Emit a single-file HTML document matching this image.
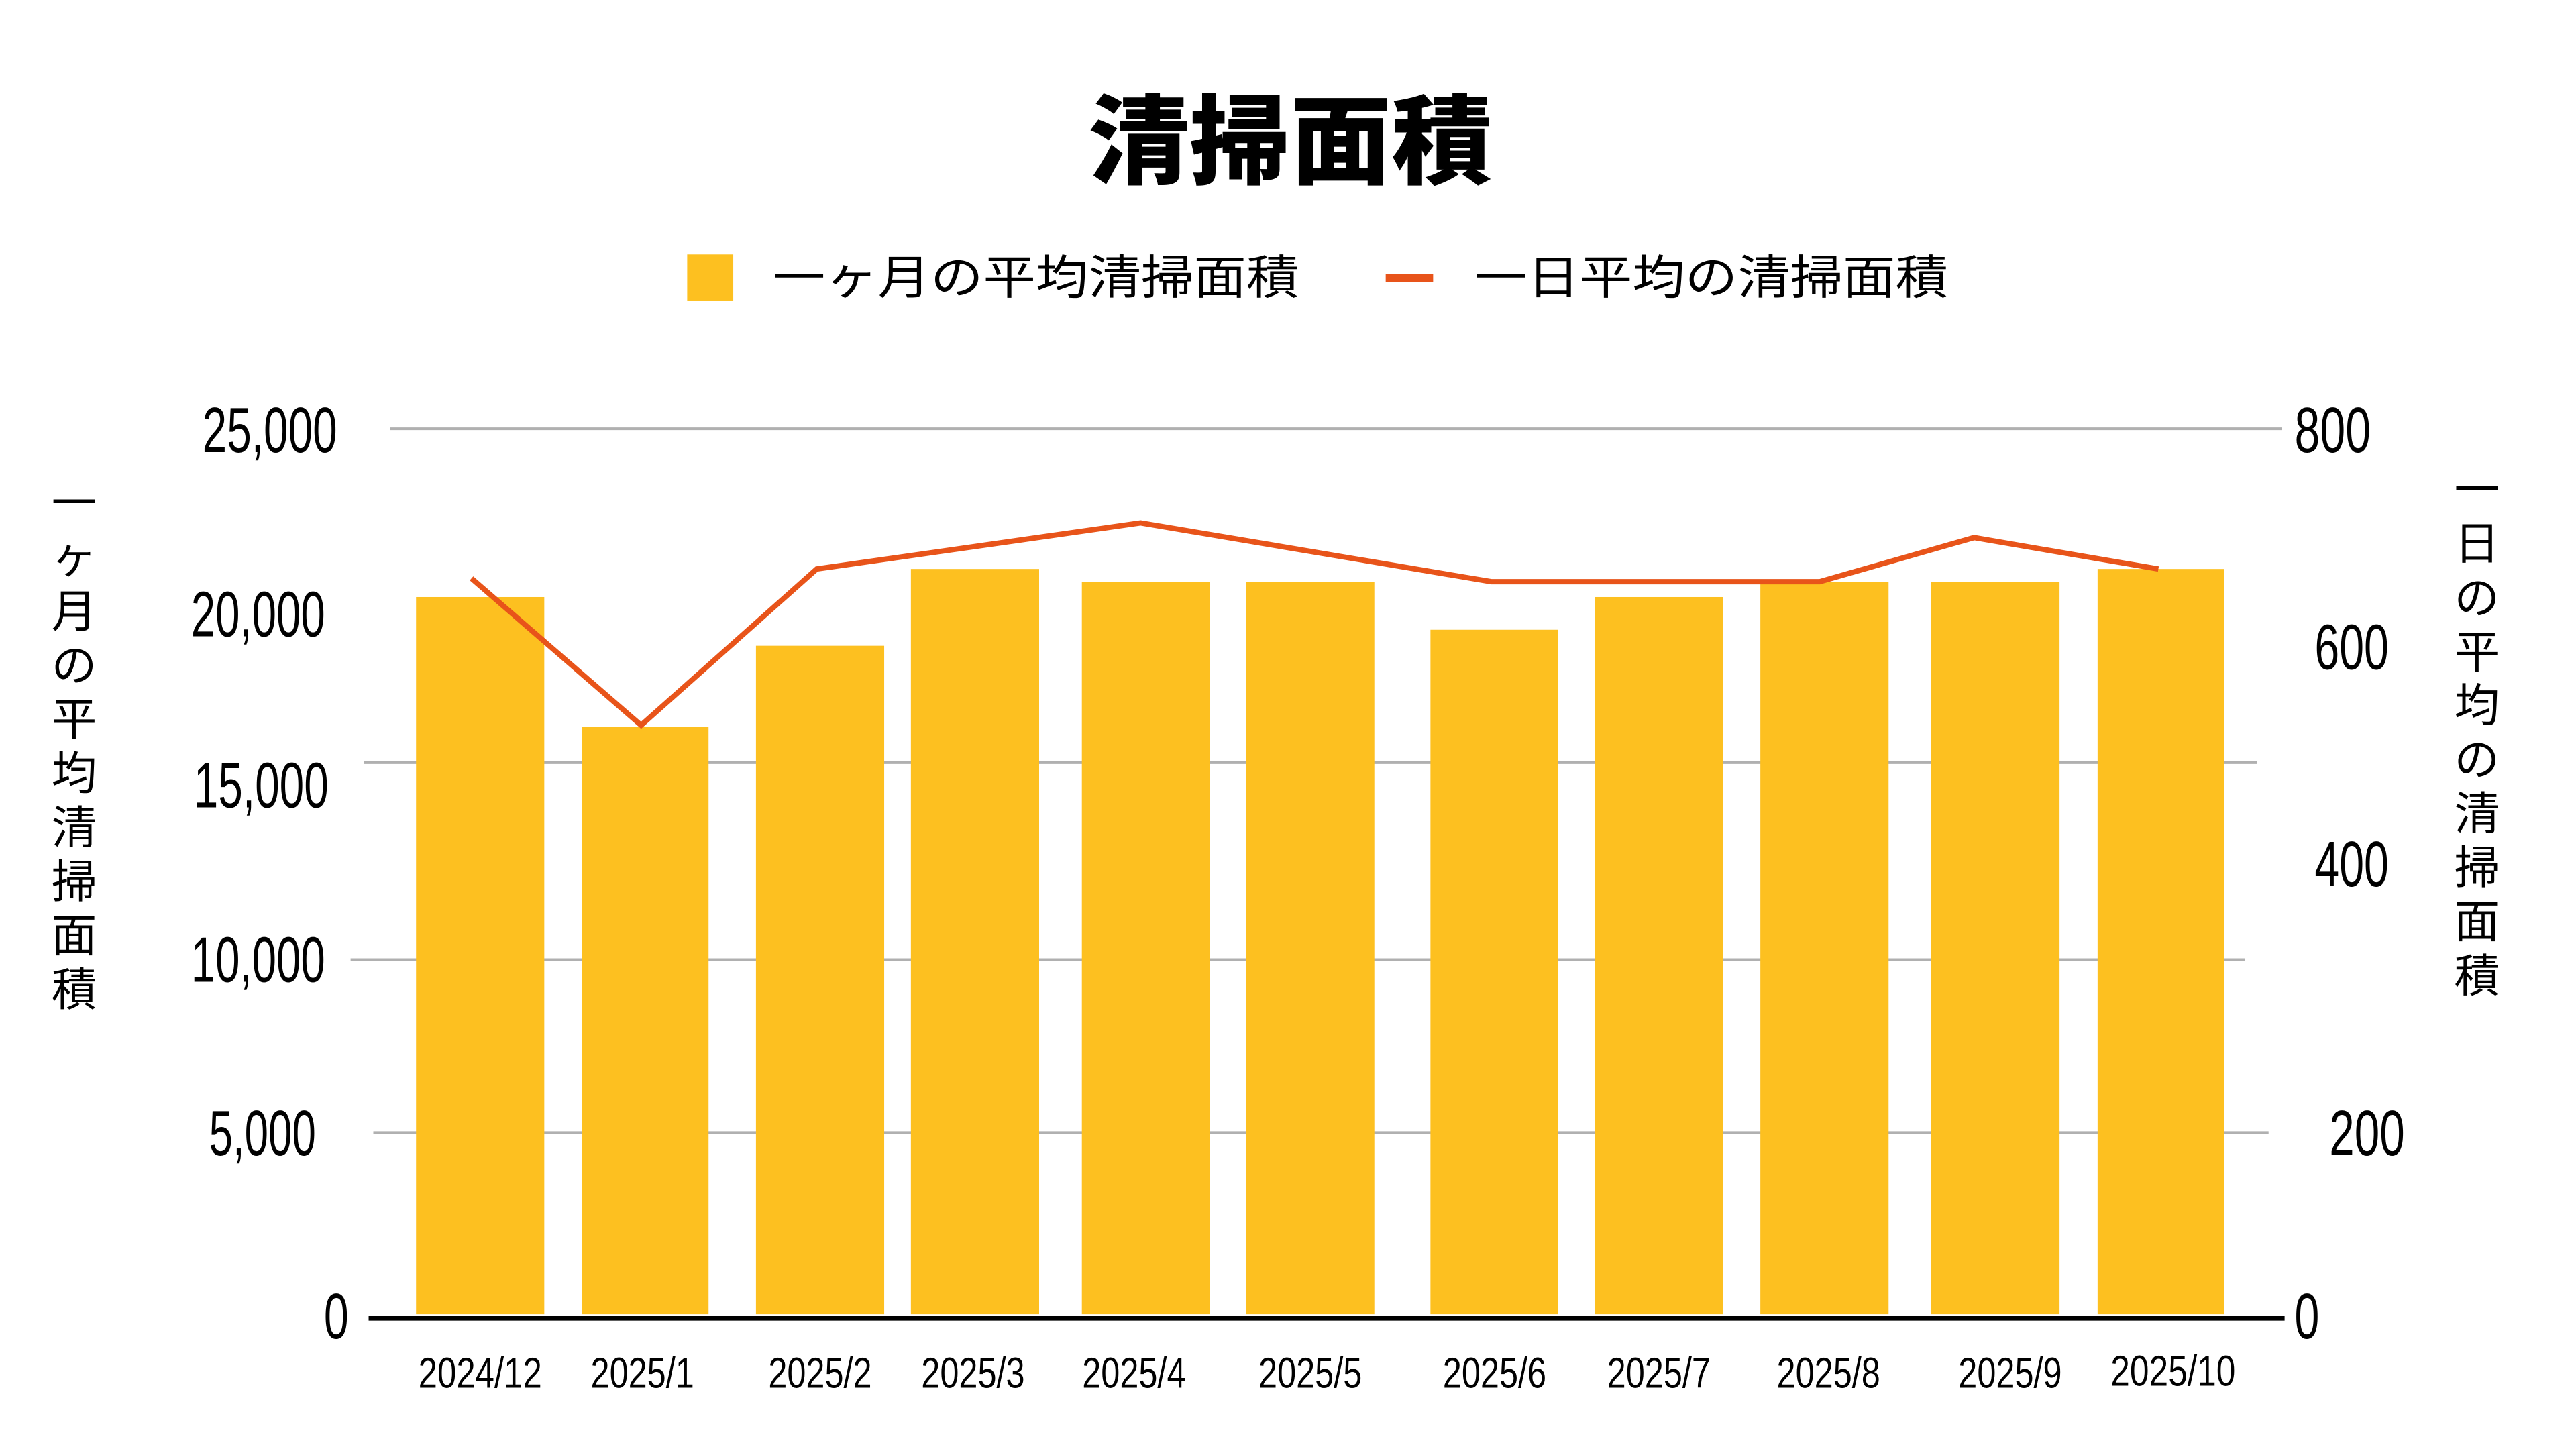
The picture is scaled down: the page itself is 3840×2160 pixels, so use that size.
<!DOCTYPE html>
<html><head><meta charset="utf-8"><style>html,body{margin:0;padding:0;background:#fff}svg{display:block}text{font-family:"Liberation Sans","Noto Sans CJK JP",sans-serif;fill:#000}</style></head><body>
<svg width="3840" height="2160" viewBox="0 0 3840 2160" xmlns="http://www.w3.org/2000/svg">
<rect width="3840" height="2160" fill="#fff"/>
<g transform="scale(0.9955)">
<text x="1932" y="264" text-anchor="middle" font-size="146" font-weight="900" textLength="605" lengthAdjust="spacingAndGlyphs" style="font-family:'Noto Sans CJK JP',sans-serif">清掃面積</text>
<rect x="1029" y="381" width="69" height="69" fill="#fdc020"/>
<text x="1157" y="440" font-size="70" textLength="788" lengthAdjust="spacingAndGlyphs" style="font-family:'Noto Sans CJK JP',sans-serif">一ヶ月の平均清掃面積</text>
<rect x="2075" y="410" width="71" height="12" fill="#e8541a"/>
<text x="2208" y="440" font-size="70" textLength="709" lengthAdjust="spacingAndGlyphs" style="font-family:'Noto Sans CJK JP',sans-serif">一日平均の清掃面積</text>
<g stroke="#b0b0b0" stroke-width="4">
<line x1="584" y1="642" x2="3417" y2="642"/>
<line x1="545" y1="1142" x2="3380" y2="1142"/>
<line x1="525" y1="1437" x2="3362" y2="1437"/>
<line x1="559" y1="1696" x2="3397" y2="1696"/>
</g>
<g fill="#fdc020">
<rect x="623" y="894" width="192" height="1074"/>
<rect x="871" y="1088" width="190" height="880"/>
<rect x="1132" y="967" width="192" height="1001"/>
<rect x="1364" y="852" width="192" height="1116"/>
<rect x="1620" y="871" width="192" height="1097"/>
<rect x="1866" y="871" width="192" height="1097"/>
<rect x="2142" y="943" width="191" height="1025"/>
<rect x="2388" y="894" width="192" height="1074"/>
<rect x="2636" y="871" width="192" height="1097"/>
<rect x="2892" y="871" width="192" height="1097"/>
<rect x="3141" y="852" width="189" height="1116"/>
</g>
<line x1="552" y1="1974" x2="3421" y2="1974" stroke="#000" stroke-width="7"/>
<polyline fill="none" stroke="#e8541a" stroke-width="8" points="706,866 960,1086 1223,852 1708,783 2233,871 2725,871 2956,805 3232,852"/>
<g font-size="96">
<text x="303" y="677" textLength="202" lengthAdjust="spacingAndGlyphs">25,000</text>
<text x="286" y="953" textLength="201" lengthAdjust="spacingAndGlyphs">20,000</text>
<text x="290" y="1209" textLength="202" lengthAdjust="spacingAndGlyphs">15,000</text>
<text x="286" y="1470" textLength="201" lengthAdjust="spacingAndGlyphs">10,000</text>
<text x="313" y="1730" textLength="160" lengthAdjust="spacingAndGlyphs">5,000</text>
<text x="485" y="2004" textLength="37" lengthAdjust="spacingAndGlyphs">0</text>
<text x="3436" y="677" textLength="114" lengthAdjust="spacingAndGlyphs">800</text>
<text x="3466" y="1002" textLength="111" lengthAdjust="spacingAndGlyphs">600</text>
<text x="3466" y="1327" textLength="111" lengthAdjust="spacingAndGlyphs">400</text>
<text x="3488" y="1730" textLength="113" lengthAdjust="spacingAndGlyphs">200</text>
<text x="3436" y="2004" textLength="37" lengthAdjust="spacingAndGlyphs">0</text>
</g>
<g font-size="64" text-anchor="middle">
<text x="719" y="2078" textLength="185" lengthAdjust="spacingAndGlyphs">2024/12</text>
<text x="962" y="2078" textLength="155" lengthAdjust="spacingAndGlyphs">2025/1</text>
<text x="1228" y="2078" textLength="155" lengthAdjust="spacingAndGlyphs">2025/2</text>
<text x="1457" y="2078" textLength="155" lengthAdjust="spacingAndGlyphs">2025/3</text>
<text x="1698" y="2078" textLength="155" lengthAdjust="spacingAndGlyphs">2025/4</text>
<text x="1962" y="2078" textLength="155" lengthAdjust="spacingAndGlyphs">2025/5</text>
<text x="2238" y="2078" textLength="155" lengthAdjust="spacingAndGlyphs">2025/6</text>
<text x="2484" y="2078" textLength="155" lengthAdjust="spacingAndGlyphs">2025/7</text>
<text x="2738" y="2078" textLength="155" lengthAdjust="spacingAndGlyphs">2025/8</text>
<text x="3010" y="2078" textLength="155" lengthAdjust="spacingAndGlyphs">2025/9</text>
<text x="3254" y="2075" textLength="187" lengthAdjust="spacingAndGlyphs">2025/10</text>
</g>
<g font-size="68" text-anchor="middle" style="font-family:'Noto Sans CJK JP',sans-serif">
<text x="111" y="777">一</text><text x="111" y="858">ヶ</text><text x="111" y="939">月</text><text x="111" y="1020">の</text><text x="111" y="1101">平</text><text x="111" y="1182">均</text><text x="111" y="1263">清</text><text x="111" y="1344">掃</text><text x="111" y="1425">面</text><text x="111" y="1506">積</text>
<text x="3709" y="757">一</text><text x="3709" y="838">日</text><text x="3709" y="919">の</text><text x="3709" y="1000">平</text><text x="3709" y="1080">均</text><text x="3709" y="1161">の</text><text x="3709" y="1242">清</text><text x="3709" y="1323">掃</text><text x="3709" y="1404">面</text><text x="3709" y="1485">積</text>
</g>
</g>
</svg>
</body></html>
